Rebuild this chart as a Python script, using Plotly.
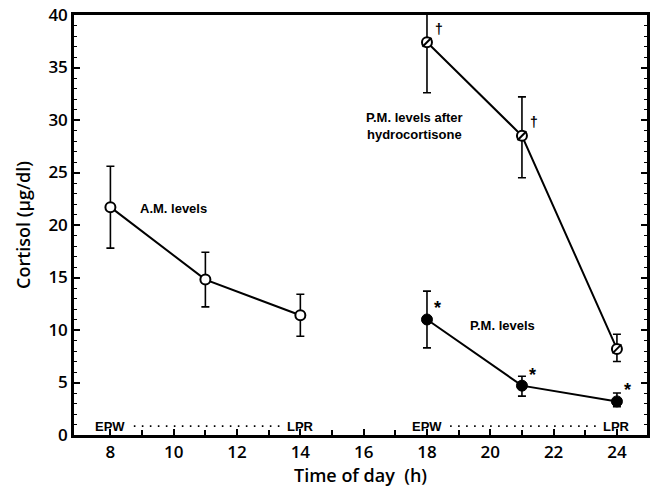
import plotly.graph_objects as go

# ---- data ----
am_x = [8, 11, 14]
am_y = [21.7, 14.8, 11.4]
am_err_plus = [3.9, 2.6, 2.0]
am_err_minus = [3.9, 2.6, 2.0]

hc_x = [18, 21, 24]
hc_y = [37.4, 28.5, 8.2]
hc_err_plus = [4.8, 3.7, 1.4]
hc_err_minus = [4.8, 4.0, 1.2]

pm_x = [18, 21, 24]
pm_y = [11.0, 4.7, 3.2]
pm_err_plus = [2.7, 0.9, 0.8]
pm_err_minus = [2.7, 1.0, 0.5]

x_ticks = [8, 10, 12, 14, 16, 18, 20, 22, 24]
y_ticks = [0, 5, 10, 15, 20, 25, 30, 35, 40]

marker_labels = [(8, "EPW"), (14, "LPR"), (18, "EPW"), (24, "LPR")]
dagger_pts = [(18, 37.4), (21, 28.5)]
star_pts = [(18, 11.0), (21, 4.7), (24, 3.2)]

FONT = "Open Sans"
LFONT = "Liberation Sans"
BLACK = "black"

fig = go.Figure()

def err(plus, minus):
    return dict(type="data", array=plus, arrayminus=minus, color=BLACK,
                thickness=1.6, width=4)

# A.M. levels: open circles
fig.add_trace(go.Scatter(
    x=am_x, y=am_y, mode="lines+markers",
    line=dict(color=BLACK, width=2),
    marker=dict(symbol="circle", size=10, color="white",
                line=dict(color=BLACK, width=2)),
    error_y=err(am_err_plus, am_err_minus), showlegend=False))

# P.M. after hydrocortisone: slashed circles
fig.add_trace(go.Scatter(
    x=hc_x, y=hc_y, mode="lines+markers",
    line=dict(color=BLACK, width=2),
    marker=dict(symbol="circle", size=10, color="white",
                line=dict(color=BLACK, width=2)),
    error_y=err(hc_err_plus, hc_err_minus), showlegend=False))
fig.add_trace(go.Scatter(
    x=hc_x, y=hc_y, mode="markers",
    marker=dict(symbol="line-ne", size=9, color=BLACK,
                line=dict(color=BLACK, width=2)),
    showlegend=False, hoverinfo="skip"))

# P.M. levels: filled circles
fig.add_trace(go.Scatter(
    x=pm_x, y=pm_y, mode="lines+markers",
    line=dict(color=BLACK, width=2),
    marker=dict(symbol="circle", size=11, color=BLACK,
                line=dict(color=BLACK, width=1)),
    error_y=err(pm_err_plus, pm_err_minus), showlegend=False))

ann = []
lab_font = dict(family=LFONT, size=13, color=BLACK, weight="bold")
ann.append(dict(x=10.0, y=21.6, text="A.M. levels", showarrow=False, font=lab_font,
                xanchor="center", yanchor="middle"))
ann.append(dict(x=17.62, y=29.45, text="P.M. levels after<br>hydrocortisone", showarrow=False,
                font=lab_font, xanchor="center", yanchor="middle", align="center"))
ann.append(dict(x=20.37, y=10.4, text="P.M. levels", showarrow=False, font=lab_font,
                xanchor="center", yanchor="middle"))

for xv, t in marker_labels:
    ann.append(dict(x=xv, y=0.8, text=t, showarrow=False,
                    font=dict(family=LFONT, size=13, color=BLACK, weight="bold"),
                    xanchor="center", yanchor="middle"))
for xv, yv in dagger_pts:
    ann.append(dict(x=xv + 0.38, y=yv + 1.3, text="†", showarrow=False,
                    font=dict(family=LFONT, size=14, color=BLACK, weight="bold"),
                    xanchor="center", yanchor="middle"))
for xv, yv in star_pts:
    ann.append(dict(x=xv + 0.33, y=yv + 1.05, text="*", showarrow=False,
                    font=dict(family=LFONT, size=18, color=BLACK, weight="bold"),
                    xanchor="center", yanchor="middle"))

shapes = []
for x0, x1 in [(8.74, 13.5), (18.73, 23.5)]:
    shapes.append(dict(type="line", x0=x0, x1=x1, y0=0.85, y1=0.85, xref="x", yref="y",
                       line=dict(color=BLACK, width=1.6, dash="1.6px,6.4px")))

tick_font = dict(family=FONT, size=17, color=BLACK, weight=600)
title_font = dict(family=FONT, size=18, color=BLACK, weight=600)

fig.update_layout(
    width=651, height=497,
    margin=dict(l=74, r=1, t=15, b=62),
    paper_bgcolor="white", plot_bgcolor="white",
    annotations=ann, shapes=shapes,
    font=dict(family=FONT, color=BLACK),
    xaxis=dict(
        range=[6.85, 24.95], tickvals=x_ticks, ticktext=[str(v) for v in x_ticks],
        showgrid=False, zeroline=False, showline=True, linecolor=BLACK, linewidth=2.5,
        mirror=True, ticks="inside", ticklen=6, tickwidth=2, tickcolor=BLACK,
        minor=dict(tickvals=[9, 11, 13, 15, 17, 19, 21, 23], ticks="inside", ticklen=5,
                   tickwidth=1.5, tickcolor=BLACK),
        tickfont=tick_font,
        title=dict(text="Time of day  (h)", font=title_font, standoff=4),
    ),
    yaxis=dict(
        range=[0, 40], tickvals=y_ticks, ticktext=[str(v) for v in y_ticks],
        showgrid=False, zeroline=False, showline=True, linecolor=BLACK, linewidth=2.5,
        mirror="allticks", ticks="inside", ticklen=6, tickwidth=2, tickcolor=BLACK,
        minor=dict(dtick=1, ticks="inside", ticklen=3, tickwidth=1.2, tickcolor=BLACK),
        tickfont=tick_font,
        title=dict(text="Cortisol (μg/dl)", font=title_font, standoff=14),
    ),
)

fig.write_html("out.html")
